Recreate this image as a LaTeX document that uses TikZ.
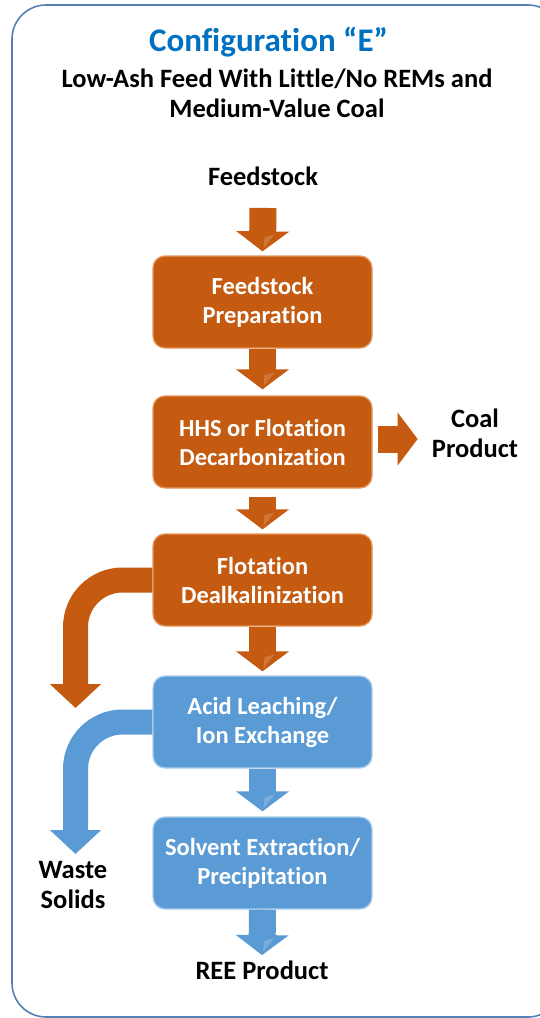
\documentclass[tikz,border=0pt]{standalone}
\usepackage{fontspec}
\setmainfont{Carlito}[Ligatures=NoCommon]
\usetikzlibrary{arrows.meta,calc}
\definecolor{rust}{RGB}{197,90,17}
\definecolor{rustrim}{RGB}{228,150,95}
\definecolor{sky}{RGB}{91,155,213}
\definecolor{skyrim}{RGB}{170,205,238}
\definecolor{titleblue}{RGB}{0,112,192}
\definecolor{frameblue}{RGB}{84,128,180}
\tikzset{
  stepbox/.style={rounded corners=12pt, minimum width=219pt, minimum height=92pt,
    text=white, align=center, line width=1.3pt,
    font=\bfseries\fontsize{24.5}{29}\selectfont},
  rustbox/.style={stepbox, fill=rust, draw=rustrim},
  skybox/.style={stepbox, fill=sky, draw=skyrim},
  caption/.style={align=center, font=\bfseries\fontsize{26.5}{30}\selectfont},
  flowarrow/.style={line width=27pt, -{Triangle[width=52pt,length=20pt]}},
  sidestream/.style={line width=25pt, rounded corners=47pt, -{Triangle[width=50pt,length=24pt]}},
  facet/.style={fill=white, opacity=0.18}
}
% straight block arrow with a light facet on its head
\newcommand{\blockarrow}[3]{%
  \draw[flowarrow, #3] (#1) -- (#2);
  \fill[facet] ($(#2)+(1,-3)$) -- ($(#2)+(12,-17)$) -- ($(#2)+(2,-14)$) -- cycle;
}
\begin{document}
\begin{tikzpicture}[x=1pt,y=-1pt]
\useasboundingbox (0,0) rectangle (539,1018);
% outer frame
\draw[frameblue, line width=1.6pt, rounded corners=34pt] (12,5) rectangle (562,1017);

% headings
\node[font=\bfseries\fontsize{33}{38}\selectfont, text=titleblue] (title) at (268.5,42) {Configuration “E”};
\node[caption] (subtitle) at (277,93)
  {Low-Ash Feed With Little/No REMs and\\Medium-Value Coal};

% process steps
\node[caption] (feed) at (263,176) {Feedstock};
\node[rustbox] (prep) at (262.5,302) {Feedstock\\Preparation};
\node[rustbox] (hhs) at (262.5,442) {HHS or Flotation\\Decarbonization};
\node[rustbox] (flot) at (262.5,580) {Flotation\\Dealkalinization};
\node[skybox] (acid) at (262.5,722) {Acid Leaching/\\Ion Exchange};
\node[skybox] (solv) at (262.5,863) {Solvent Extraction/\\Precipitation};

% products
\node[caption] (coal) at (475,433) {Coal\\Product};
\node[caption] (waste) at (73,885) {Waste\\Solids};
\node[caption] (ree) at (262,970) {REE Product};

% ends of the side streams
\coordinate (rustdrop) at (75.5,708);
\coordinate (skydrop) at (75.5,854);

% main flow
\coordinate (feedstart) at ($(feed.south)+(0,19)$);
\blockarrow{feedstart}{$(prep.north)+(0,-4)$}{rust}
\blockarrow{prep.south}{$(hhs.north)+(0,-6)$}{rust}
\blockarrow{$(hhs.south)+(0,8)$}{$(flot.north)+(0,-4)$}{rust}
\blockarrow{flot.south}{$(acid.north)+(0,-4)$}{rust}
\blockarrow{acid.south}{$(solv.north)+(0,-5)$}{sky}
\blockarrow{solv.south}{$(ree.north)+(0,-2)$}{sky}

% coal product branch
\draw[flowarrow, rust] ($(hhs.east)+(5,-3)$) -- ($(hhs.east)+(45,-3)$);

% side streams to waste
\draw[sidestream, rust] (flot.west) -| (rustdrop);
\draw[sidestream, sky] (acid.west) -| (skydrop);
\end{tikzpicture}
\end{document}
